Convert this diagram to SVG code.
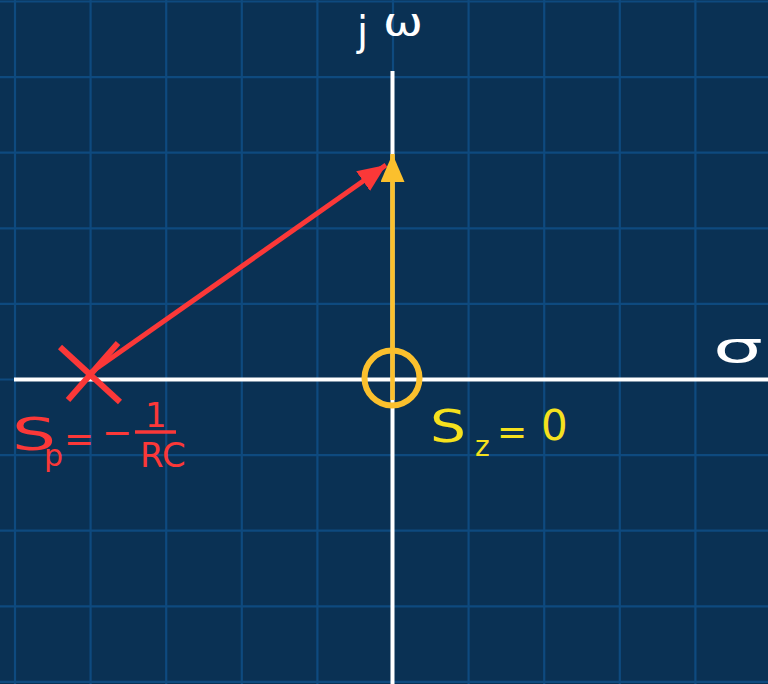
<svg xmlns="http://www.w3.org/2000/svg" width="768" height="684" viewBox="0 0 768 684">
  <defs>
    <style>
      .grid line { stroke: #0e4a7f; stroke-width: 2.2; }
      .axis { stroke: #ffffff; stroke-width: 4; fill: none; }
      .lbl { font-family: "DejaVu Sans", "Liberation Sans", sans-serif; }
      .red { fill: #fb3838; }
      .yel { fill: #f5e11e; }
      .wht { fill: #ffffff; }
    </style>
    <marker id="ahRed" markerUnits="userSpaceOnUse" markerWidth="30" markerHeight="26" refX="28" refY="12" orient="auto">
      <path d="M0,0 L28,12 L0,24 Z" fill="#fb3838"/>
    </marker>
    <marker id="ahYel" markerUnits="userSpaceOnUse" markerWidth="30" markerHeight="26" refX="28" refY="12" orient="auto">
      <path d="M0,0 L28,12 L0,24 Z" fill="#fbc02d"/>
    </marker>
  </defs>

  <rect x="0" y="0" width="768" height="684" fill="#0a3154"/>

  <g id="grid" class="grid">
    <line x1="15" y1="0" x2="15" y2="684"/>
    <line x1="90.6" y1="0" x2="90.6" y2="684"/>
    <line x1="166.2" y1="0" x2="166.2" y2="684"/>
    <line x1="241.8" y1="0" x2="241.8" y2="684"/>
    <line x1="317.4" y1="0" x2="317.4" y2="684"/>
    <line x1="393" y1="0" x2="393" y2="684"/>
    <line x1="468.6" y1="0" x2="468.6" y2="684"/>
    <line x1="544.2" y1="0" x2="544.2" y2="684"/>
    <line x1="619.8" y1="0" x2="619.8" y2="684"/>
    <line x1="695.4" y1="0" x2="695.4" y2="684"/>
    <line x1="0" y1="1.5" x2="768" y2="1.5"/>
    <line x1="0" y1="77.1" x2="768" y2="77.1"/>
    <line x1="0" y1="152.7" x2="768" y2="152.7"/>
    <line x1="0" y1="228.3" x2="768" y2="228.3"/>
    <line x1="0" y1="303.9" x2="768" y2="303.9"/>
    <line x1="0" y1="379.5" x2="768" y2="379.5"/>
    <line x1="0" y1="455.1" x2="768" y2="455.1"/>
    <line x1="0" y1="530.7" x2="768" y2="530.7"/>
    <line x1="0" y1="606.3" x2="768" y2="606.3"/>
    <line x1="0" y1="681.9" x2="768" y2="681.9"/>
  </g>

  <g id="axes">
    <line class="axis" x1="14" y1="379.5" x2="768" y2="379.5"/>
    <line class="axis" x1="392.5" y1="71" x2="392.5" y2="684"/>
    <text class="lbl wht" x="357" y="45" font-size="40">j</text>
    <text class="lbl wht" x="383" y="35" font-size="38" textLength="40" lengthAdjust="spacingAndGlyphs">ω</text>
    <text class="lbl wht" x="713" y="362" font-size="42" textLength="50" lengthAdjust="spacingAndGlyphs">σ</text>
  </g>

  <g id="connectors">
    <line x1="90" y1="373" x2="386" y2="165" stroke="#fb3838" stroke-width="5" marker-end="url(#ahRed)"/>
    <line x1="392.5" y1="400" x2="392.5" y2="154" stroke="#fbc02d" stroke-width="4.5" marker-end="url(#ahYel)"/>
  </g>

  <g id="pole">
    <line x1="60" y1="347" x2="120" y2="402" stroke="#fb3838" stroke-width="6"/>
    <line x1="68" y1="400" x2="118" y2="343" stroke="#fb3838" stroke-width="6"/>
    <text class="lbl red" x="12" y="450" font-size="44" textLength="44" lengthAdjust="spacingAndGlyphs">S</text>
    <text class="lbl red" x="44" y="466" font-size="30">p</text>
    <text class="lbl red" x="64" y="451" font-size="36">=</text>
    <text class="lbl red" x="102" y="445" font-size="36">−</text>
    <text class="lbl red" x="145" y="427" font-size="34">1</text>
    <line x1="135" y1="432" x2="176" y2="432" stroke="#fb3838" stroke-width="3.5"/>
    <text class="lbl red" x="140" y="467" font-size="34">RC</text>
  </g>

  <g id="zero">
    <circle cx="392" cy="378" r="27.5" fill="none" stroke="#fbc02d" stroke-width="6"/>
    <text class="lbl yel" x="430" y="442" font-size="44" textLength="36" lengthAdjust="spacingAndGlyphs">S</text>
    <text class="lbl yel" x="475" y="456" font-size="28">z</text>
    <text class="lbl yel" x="497" y="444" font-size="36">=</text>
    <text class="lbl yel" x="541" y="440" font-size="42">0</text>
  </g>
</svg>
